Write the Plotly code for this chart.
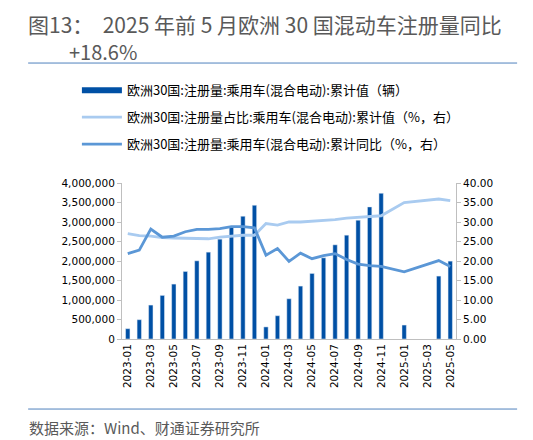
import plotly.graph_objects as go

# 月份 2023-01 ~ 2025-05
months = [f"{y}-{m:02d}" for y in (2023, 2024) for m in range(1, 13)] + \
         [f"2025-{m:02d}" for m in range(1, 6)]
tick_labels = months[::2]

# 欧洲30国 混合电动 乘用车注册量 累计值 (辆)
reg_cum = [264000, 495000, 870000, 1118000, 1408000, 1732000, 2005000, 2227000,
           2560000, 2875000, 3148000, 3430000,
           310000, 597000, 1032000, 1357000, 1681000, 2082000, 2415000, 2662000,
           3046000, 3387000, 3737000, None,
           358000, None, None, 1613000, 1997000]

# 注册量占比 累计值 (%)
share_cum = [27.0, 26.5, 26.4, 26.0, 25.9, 25.8, 25.8, 25.7, 26.1, 26.4, 26.6, 26.6,
             29.6, 29.2, 30.0, 30.0, 30.2, 30.4, 30.6, 31.0, 31.2, 31.5, 31.6, None,
             35.0, None, None, 35.9, 35.5]

# 注册量 累计同比 (%)
yoy_cum = [21.9, 22.8, 28.2, 26.1, 26.4, 27.5, 28.1, 28.1, 28.3, 28.8, 28.8, 28.5,
           21.5, 23.2, 19.9, 22.0, 20.6, 21.4, 21.9, 20.4, 19.2, 18.8, 18.6, None,
           17.2, None, None, 20.1, 18.6]

c_bar = "#0050A5"
c_share = "#A9CBF0"
c_yoy = "#5B97D6"
cjk = "Noto Sans CJK SC"
num_font = "DejaVu Sans"

fig = go.Figure()

fig.add_trace(go.Bar(x=months, y=reg_cum, marker_color=c_bar, showlegend=False,
                     name="欧洲30国:注册量:乘用车(混合电动):累计值（辆）"))
# 图例用的粗线
fig.add_trace(go.Scatter(x=[None], y=[None], mode="lines", line=dict(color=c_bar, width=6),
                         name="欧洲30国:注册量:乘用车(混合电动):累计值（辆）", legendgroup="a"))
fig.add_trace(go.Scatter(x=months, y=share_cum, yaxis="y2", mode="lines", connectgaps=True,
                         line=dict(color=c_share, width=2.8), legendgroup="b",
                         name="欧洲30国:注册量占比:乘用车(混合电动):累计值（%，右）"))
fig.add_trace(go.Scatter(x=months, y=yoy_cum, yaxis="y2", mode="lines", connectgaps=True,
                         line=dict(color=c_yoy, width=2.8), legendgroup="c",
                         name="欧洲30国:注册量:乘用车(混合电动):累计同比（%，右）"))

# 页面有 8px 的边距，这里整体尺寸减掉
fig.update_layout(
    width=525, height=432,
    margin=dict(l=114, r=77, t=175, b=101),
    plot_bgcolor="white", paper_bgcolor="white",
    bargap=0.62,
    font=dict(family=num_font, size=10.5, color="#000000"),
    xaxis=dict(type="category", categoryorder="array", categoryarray=months,
               tickmode="array", tickvals=tick_labels, ticktext=tick_labels,
               tickangle=-90, showline=True, linecolor="#BFBFBF", linewidth=1,
               ticks="", showgrid=False, tickfont=dict(size=10.5)),
    yaxis=dict(range=[0, 4000000], dtick=500000, tickformat=",", showgrid=False,
               showline=True, linecolor="#BFBFBF", ticks="outside", ticklen=4,
               tickcolor="#BFBFBF", zeroline=False, tickfont=dict(size=10.5)),
    yaxis2=dict(overlaying="y", side="right", range=[0, 40], dtick=5, tickformat=".2f",
                showgrid=False, showline=True, linecolor="#BFBFBF", ticks="outside",
                ticklen=4, tickcolor="#BFBFBF", zeroline=False, tickfont=dict(size=10.5)),
    legend=dict(x=-0.135, y=1.69, xanchor="left", yanchor="top",
                orientation="v", tracegroupgap=7, itemwidth=40,
                font=dict(family=cjk, size=13, color="#000000"), bgcolor="rgba(0,0,0,0)"),
)

fig.add_annotation(text="图13：  2025 年前 5 月欧洲 30 国混动车注册量同比",
                   xref="paper", yref="paper", x=-0.285, y=2.122, yanchor="top",
                   xanchor="left", showarrow=False, borderpad=0,
                   font=dict(family=cjk, size=21, color="#595959"))
fig.add_annotation(text="+18.6%", xref="paper", yref="paper", x=-0.163, y=1.843,
                   yanchor="middle", xanchor="left", showarrow=False, borderpad=0,
                   font=dict(family=cjk, size=20, color="#595959"))
fig.add_annotation(text="数据来源：Wind、财通证券研究所", xref="paper", yref="paper",
                   x=-0.285, y=-0.57, xanchor="left", yanchor="middle",
                   showarrow=False, font=dict(family=cjk, size=15, color="#595959"))

# 标题下、来源上方的分隔线
fig.add_shape(type="line", xref="paper", yref="paper", x0=-0.281, x1=1.183,
              y0=1.769, y1=1.769, line=dict(color="#4F81BD", width=1))
fig.add_shape(type="line", xref="paper", yref="paper", x0=-0.281, x1=1.183,
              y0=-0.449, y1=-0.449, line=dict(color="#4F81BD", width=1))

fig.write_html("out.html")
